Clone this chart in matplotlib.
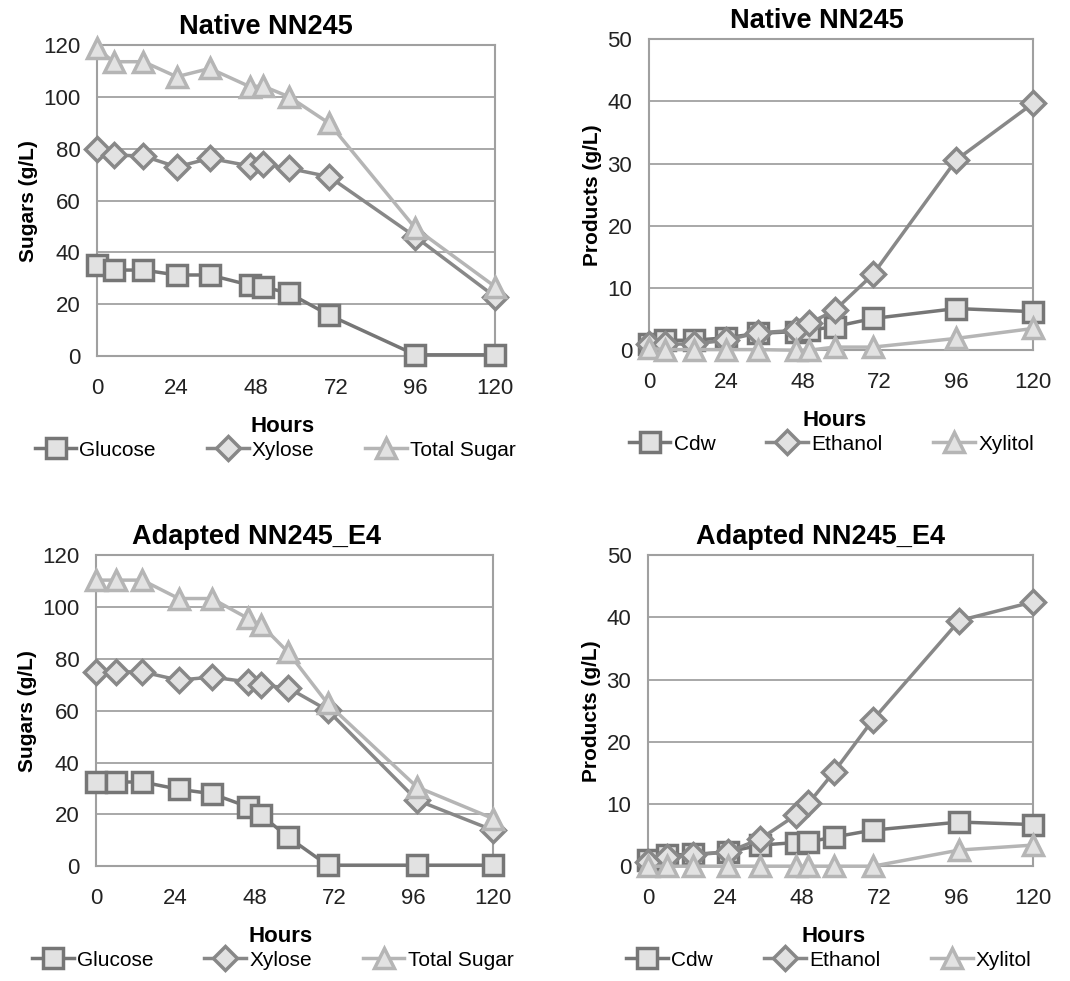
import matplotlib.pyplot as plt

plt.rcParams['font.family'] = ['Liberation Sans', 'DejaVu Sans']

hours = [0, 5, 14, 24, 34, 46, 50, 58, 70, 96, 120]
hours_e4 = [0, 6, 14, 25, 35, 46, 50, 58, 70, 97, 120]

# Native NN245 - sugars
nat_glucose = [35.1, 33.2, 33.2, 31.3, 31.3, 27.4, 26.8, 24.2, 15.8, 0.5, 0.5]
nat_xylose = [80.1, 77.6, 77.2, 73.0, 76.3, 73.4, 74.1, 72.4, 69.2, 46.0, 22.9]
nat_total = [118.7, 113.6, 113.6, 107.8, 111.0, 104.0, 104.2, 100.0, 89.8, 49.3, 26.8]

# Native NN245 - products
nat_cdw = [1.0, 1.6, 1.6, 2.0, 2.7, 3.0, 3.2, 3.8, 5.1, 6.7, 6.2]
nat_ethanol = [1.0, 1.0, 1.0, 1.6, 2.8, 3.2, 4.3, 6.4, 12.2, 30.6, 39.7]
nat_xylitol = [0.3, 0.1, 0.1, 0.1, 0.1, 0.0, 0.0, 0.5, 0.5, 1.9, 3.5]

# Adapted NN245_E4 - sugars
e4_glucose = [32.5, 32.5, 32.5, 29.7, 28.0, 22.9, 19.7, 11.3, 0.4, 0.4, 0.4]
e4_xylose = [75.0, 75.0, 75.0, 71.8, 73.0, 71.1, 69.8, 68.9, 60.2, 25.5, 13.9]
e4_total = [110.4, 110.4, 110.4, 103.3, 103.3, 95.6, 93.0, 82.7, 62.8, 30.6, 18.4]

# Adapted NN245_E4 - products
e4_cdw = [1.0, 1.8, 1.9, 2.3, 3.4, 3.8, 3.9, 4.7, 5.8, 7.1, 6.7]
e4_ethanol = [0.7, 1.5, 1.8, 2.3, 4.4, 8.2, 10.1, 15.2, 23.5, 39.5, 42.5]
e4_xylitol = [0.0, 0.0, 0.0, 0.0, 0.0, 0.0, 0.0, 0.0, 0.0, 2.6, 3.4]

xticks = [0, 24, 48, 72, 96, 120]

fig = plt.figure(figsize=(10.7, 9.81), dpi=100)

c_dark = '#767676'
c_mid = '#888888'
c_light = '#b5b5b5'


def panel(rect, title, x, series, labels, ymax, ystep, ylabel, tx, hx, lx):
    ax = fig.add_axes(rect)
    styles = [('s', c_dark, 14), ('D', c_mid, 12), ('^', c_light, 14)]
    for y, lab, (m, c, ms) in zip(series, labels, styles):
        ax.plot(x, y, color=c, lw=2.5, marker=m, ms=ms, mfc='#e2e2e2',
                mec=c, mew=2.5, label=lab, clip_on=False, zorder=3)
    ax.set_xlim(0, 120)
    ax.set_ylim(0, ymax)
    ax.set_xticks(xticks)
    ax.set_yticks(range(0, ymax + 1, ystep))
    ax.tick_params(labelsize=16, length=0, colors='#222222')
    ax.tick_params(axis='x', pad=16)
    ax.tick_params(axis='y', pad=12)
    ax.yaxis.grid(True, color='#9a9a9a', lw=1.2)
    ax.set_axisbelow(True)
    for s in ax.spines.values():
        s.set_color('#a0a0a0')
        s.set_linewidth(1.5)
    # title, axis title and legend sit centred over the whole chart area
    ax.set_title(title, fontsize=19.5, fontweight='bold', pad=8, x=tx)
    ax.set_xlabel('Hours', fontsize=16, fontweight='bold', labelpad=12, x=hx)
    ax.set_ylabel(ylabel, fontsize=15, fontweight='bold', labelpad=4)
    ax.legend(loc='upper center', bbox_to_anchor=(lx, -0.245), ncol=3,
              frameon=False, fontsize=15, handlelength=2.0, handletextpad=0.15,
              columnspacing=2.45, borderaxespad=0)
    return ax


panel([0.0907, 0.637, 0.372, 0.317], 'Native NN245', hours,
      [nat_glucose, nat_xylose, nat_total], ['Glucose', 'Xylose', 'Total Sugar'],
      120, 20, 'Sugars (g/L)', 0.425, 0.465, 0.448)
panel([0.6065, 0.643, 0.359, 0.317], 'Native NN245', hours,
      [nat_cdw, nat_ethanol, nat_xylitol], ['Cdw', 'Ethanol', 'Xylitol'],
      50, 10, 'Products (g/L)', 0.4375, 0.484, 0.475)
panel([0.0897, 0.117, 0.371, 0.317], 'Adapted NN245_E4', hours_e4,
      [e4_glucose, e4_xylose, e4_total], ['Glucose', 'Xylose', 'Total Sugar'],
      120, 20, 'Sugars (g/L)', 0.405, 0.466, 0.445)
panel([0.6056, 0.117, 0.36, 0.317], 'Adapted NN245_E4', hours_e4,
      [e4_cdw, e4_ethanol, e4_xylitol], ['Cdw', 'Ethanol', 'Xylitol'],
      50, 10, 'Products (g/L)', 0.449, 0.483, 0.47)

fig.savefig('out.png', dpi=100)
